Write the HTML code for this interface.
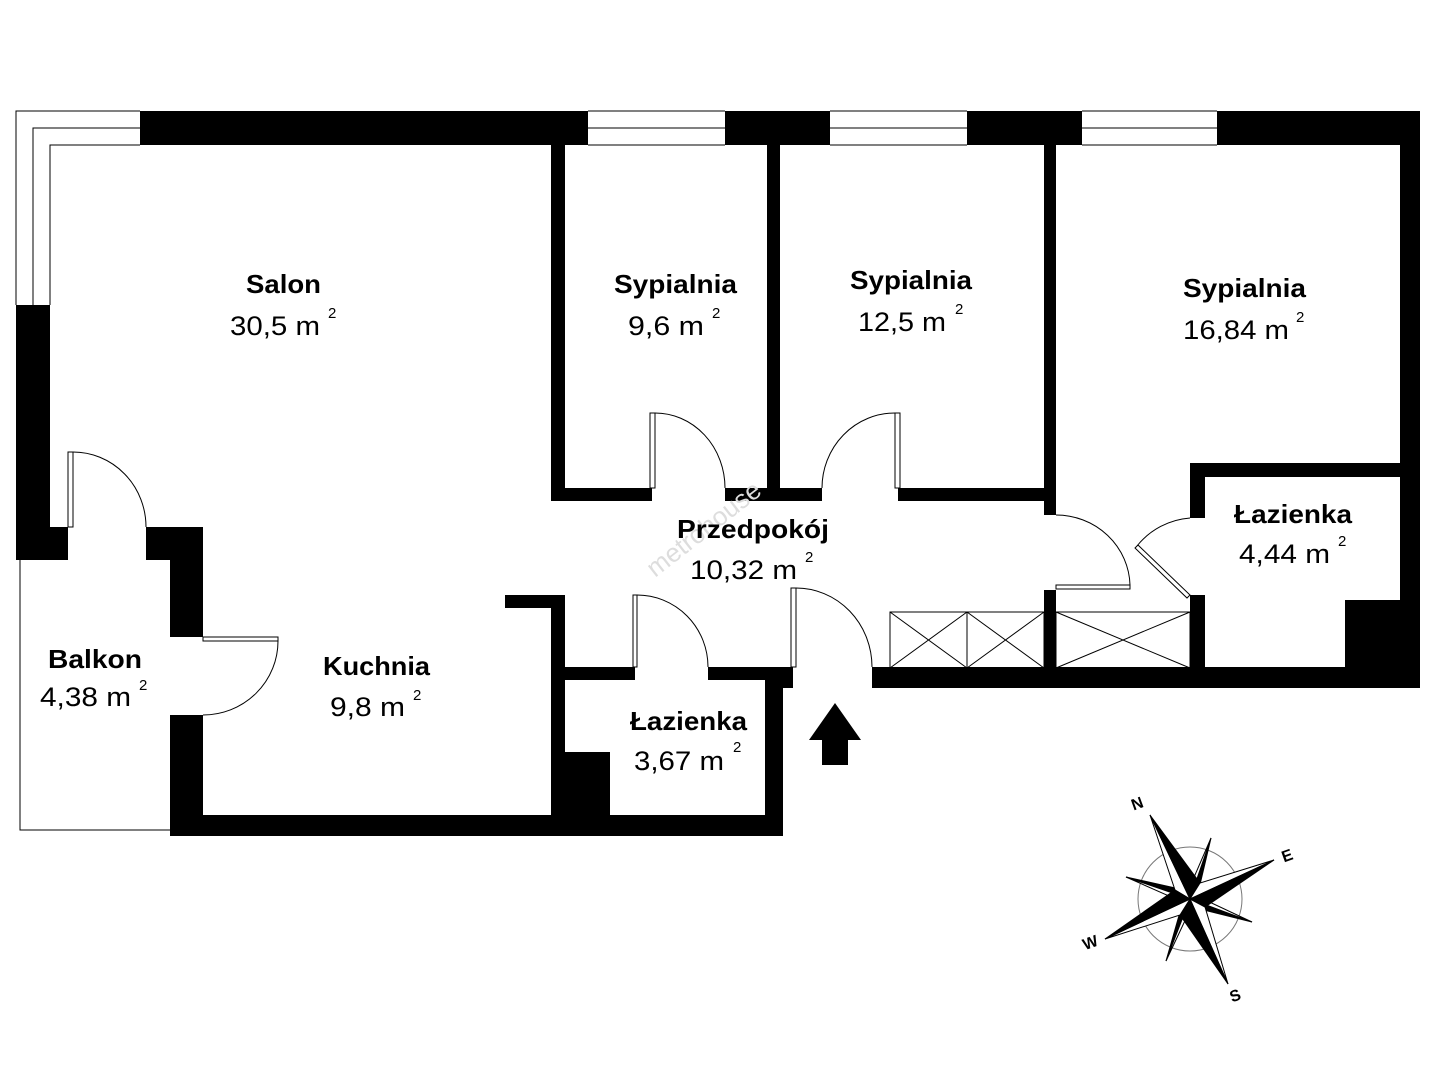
<!DOCTYPE html>
<html><head><meta charset="utf-8"><style>
html,body{margin:0;padding:0;background:#fff}
svg{display:block}
text{font-family:"Liberation Sans",sans-serif}
.b{font-weight:bold;font-size:26px}
.n{font-size:27px}
.s{font-size:15px}
</style></head><body>
<svg width="1440" height="1080" viewBox="0 0 1440 1080" xmlns="http://www.w3.org/2000/svg">
<g fill="#000">
<rect x="140" y="111" width="448" height="34"/>
<rect x="725" y="111" width="105" height="34"/>
<rect x="967" y="111" width="115" height="34"/>
<polygon points="1217,111 1420,111 1420,688 1400,688 1400,145 1217,145"/>
<rect x="16" y="305" width="34" height="255"/>
<rect x="16" y="527" width="52" height="33"/>
<rect x="146" y="527" width="57" height="33"/>
<rect x="170" y="527" width="33" height="110"/>
<rect x="170" y="715" width="33" height="121"/>
<rect x="170" y="815" width="613" height="21"/>
<rect x="765" y="667" width="18" height="169"/>
<rect x="551" y="595" width="14" height="220"/>
<rect x="505" y="595" width="60" height="13"/>
<rect x="551" y="752" width="59" height="63"/>
<rect x="565" y="667" width="70" height="13"/>
<rect x="708" y="667" width="85" height="13"/>
<rect x="783" y="667" width="10" height="21"/>
<rect x="872" y="667" width="548" height="21"/>
<rect x="551" y="145" width="14" height="356"/>
<rect x="551" y="488" width="101" height="13"/>
<rect x="725" y="488" width="97" height="13"/>
<rect x="767" y="145" width="13" height="356"/>
<rect x="898" y="488" width="158" height="13"/>
<rect x="1044" y="145" width="12" height="370"/>
<rect x="1044" y="590" width="12" height="98"/>
<rect x="1190" y="463" width="210" height="14"/>
<rect x="1190" y="463" width="15" height="55"/>
<rect x="1190" y="595" width="15" height="73"/>
<rect x="1345" y="600" width="55" height="68"/>
</g>
<g fill="none" stroke="#000" stroke-width="1">
<polyline points="16,305 16,111 140,111"/>
<polyline points="33,305 33,128 140,128"/>
<polyline points="50,305 50,145 140,145"/>
<line x1="588" y1="111" x2="725" y2="111"/><line x1="588" y1="128" x2="725" y2="128"/><line x1="588" y1="145" x2="725" y2="145"/>
<line x1="830" y1="111" x2="967" y2="111"/><line x1="830" y1="128" x2="967" y2="128"/><line x1="830" y1="145" x2="967" y2="145"/>
<line x1="1082" y1="111" x2="1217" y2="111"/><line x1="1082" y1="128" x2="1217" y2="128"/><line x1="1082" y1="145" x2="1217" y2="145"/>
<polyline points="170,830 20,830 20,560"/>
<rect x="68" y="452" width="5" height="75"/><path d="M73,452 A73,75 0 0 1 146,527"/>
<rect x="650" y="413" width="5" height="75"/><path d="M655,413 A70,75 0 0 1 725,488"/>
<rect x="895" y="413" width="5" height="75"/><path d="M895,413 A73,75 0 0 0 822,488"/>
<rect x="203" y="637" width="75" height="4"/><path d="M278,641 A75,74 0 0 1 203,715"/>
<rect x="633" y="595" width="4" height="72"/><path d="M637,595 A71,72 0 0 1 708,667"/>
<rect x="791" y="588" width="5" height="79"/><path d="M796,588 A76,79 0 0 1 872,667"/>
<rect x="1056" y="585" width="74" height="4"/><path d="M1056,515 A74,72 0 0 1 1130,585"/>
<polygon points="1190,595 1187,598 1135,548 1138,545"/><path d="M1137,546 A75,75 0 0 1 1190,518"/>
<rect x="890" y="612" width="77" height="56"/><path d="M890,612 L967,668 M967,612 L890,668"/>
<rect x="967" y="612" width="77" height="56"/><path d="M967,612 L1044,668 M1044,612 L967,668"/>
<rect x="1056" y="612" width="134" height="56"/><path d="M1056,612 L1190,668 M1190,612 L1056,668"/>
</g>
<polygon points="835,703 861,740 848,740 848,765 822,765 822,740 809,740" fill="#000"/>
<text x="0" y="0" transform="translate(655,578) rotate(-38)" font-size="26" fill="#ddd">metrohouse</text>
<g>
<text class="b" x="246" y="293" textLength="75" lengthAdjust="spacingAndGlyphs">Salon</text><text class="n" x="230" y="335" textLength="90" lengthAdjust="spacingAndGlyphs">30,5 m</text><text class="s" x="328" y="318">2</text>
<text class="b" x="614" y="293" textLength="123" lengthAdjust="spacingAndGlyphs">Sypialnia</text><text class="n" x="628" y="335" textLength="76" lengthAdjust="spacingAndGlyphs">9,6 m</text><text class="s" x="712" y="318">2</text>
<text class="b" x="850" y="289" textLength="122" lengthAdjust="spacingAndGlyphs">Sypialnia</text><text class="n" x="858" y="331" textLength="88" lengthAdjust="spacingAndGlyphs">12,5 m</text><text class="s" x="955" y="314">2</text>
<text class="b" x="1183" y="297" textLength="123" lengthAdjust="spacingAndGlyphs">Sypialnia</text><text class="n" x="1183" y="339" textLength="106" lengthAdjust="spacingAndGlyphs">16,84 m</text><text class="s" x="1296" y="322">2</text>
<text class="b" x="1234" y="523" textLength="118" lengthAdjust="spacingAndGlyphs">Łazienka</text><text class="n" x="1239" y="563" textLength="91" lengthAdjust="spacingAndGlyphs">4,44 m</text><text class="s" x="1338" y="546">2</text>
<text class="b" x="677" y="538" textLength="152" lengthAdjust="spacingAndGlyphs">Przedpokój</text><text class="n" x="690" y="579" textLength="107" lengthAdjust="spacingAndGlyphs">10,32 m</text><text class="s" x="805" y="562">2</text>
<text class="b" x="48" y="668" textLength="94" lengthAdjust="spacingAndGlyphs">Balkon</text><text class="n" x="40" y="706" textLength="91" lengthAdjust="spacingAndGlyphs">4,38 m</text><text class="s" x="139" y="690">2</text>
<text class="b" x="323" y="675" textLength="107" lengthAdjust="spacingAndGlyphs">Kuchnia</text><text class="n" x="330" y="716" textLength="75" lengthAdjust="spacingAndGlyphs">9,8 m</text><text class="s" x="413" y="700">2</text>
<text class="b" x="630" y="730" textLength="117" lengthAdjust="spacingAndGlyphs">Łazienka</text><text class="n" x="634" y="770" textLength="90" lengthAdjust="spacingAndGlyphs">3,67 m</text><text class="s" x="733" y="752">2</text>
</g>
<g stroke="#000" stroke-width="1">
<circle cx="1190" cy="899" r="52" fill="none" stroke="#777"/>
<polygon points="1211,838 1198,893 1190,899" fill="#000"/>
<polygon points="1211,838 1182,905 1190,899" fill="#fff"/>
<polygon points="1166,961 1182,905 1190,899" fill="#000"/>
<polygon points="1166,961 1198,893 1190,899" fill="#fff"/>
<polygon points="1126,877 1184,890 1190,899" fill="#000"/>
<polygon points="1126,877 1196,908 1190,899" fill="#fff"/>
<polygon points="1252,922 1196,908 1190,899" fill="#000"/>
<polygon points="1252,922 1184,890 1190,899" fill="#fff"/>
<polygon points="1150,815 1190,899 1175,890" fill="#fff"/>
<polygon points="1150,815 1190,899 1200,883" fill="#000"/>
<polygon points="1274,860 1190,899 1200,883" fill="#fff"/>
<polygon points="1274,860 1190,899 1205,907" fill="#000"/>
<polygon points="1228,984 1190,899 1205,907" fill="#fff"/>
<polygon points="1228,984 1190,899 1180,915" fill="#000"/>
<polygon points="1105,939 1190,899 1180,915" fill="#fff"/>
<polygon points="1105,939 1190,899 1175,890" fill="#000"/>
</g>
<g font-weight="bold" font-size="16" text-anchor="middle">
<text x="1137" y="809" transform="rotate(-20 1137 803)">N</text>
<text x="1287" y="861" transform="rotate(-20 1287 855)">E</text>
<text x="1235" y="1001" transform="rotate(-20 1235 995)">S</text>
<text x="1090" y="948" transform="rotate(-20 1090 942)">W</text>
</g>
</svg>
</body></html>
